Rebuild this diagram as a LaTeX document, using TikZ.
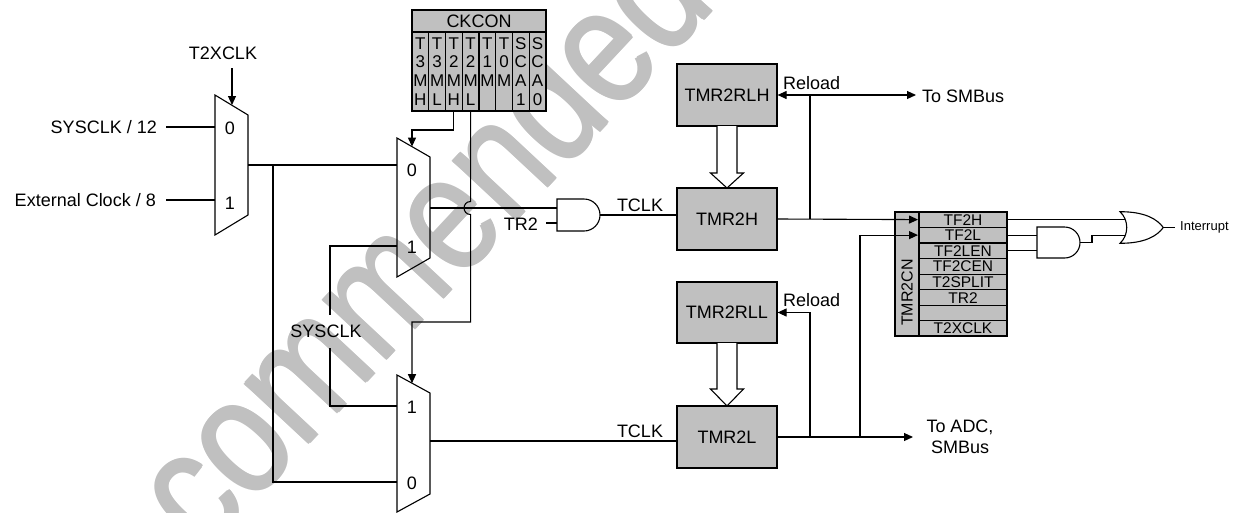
\documentclass[tikz,border=0pt]{standalone}
\usepackage{fontspec}
\setmainfont{Liberation Sans}
\usetikzlibrary{arrows.meta}
\definecolor{boxgray}{RGB}{192,192,192}
\definecolor{wmgray}{RGB}{192,192,192}
\begin{document}
\begin{tikzpicture}[x=1pt,y=-1pt,
  wire/.style={line width=1.1pt,line join=miter},
  arr/.style={wire,-{Triangle[length=9pt,width=8pt]}},
  dblarr/.style={wire,{Triangle[length=9pt,width=8pt]}-{Triangle[length=9pt,width=8pt]}},
  gate/.style={line width=1.1pt,fill=white},
  hollow/.style={line width=1.1pt,fill=white,line join=miter},
  regbox/.style={line width=1.1pt,fill=boxgray,draw},
  tbox/.style={draw,line width=1.2pt,fill=boxgray,minimum width=100pt,inner sep=0pt,font=\fontsize{18}{21}\selectfont},
  lbl/.style={inner sep=0pt,font=\fontsize{18}{21}\selectfont},
  cklbl/.style={inner sep=0pt,font=\fontsize{17}{20}\selectfont},
  rlbl/.style={inner sep=0pt,font=\fontsize{15.5}{17}\selectfont},
  wm/.style={inner sep=0pt,text=wmgray,rotate=47,anchor=base west,font=\fontsize{165}{165}\selectfont}]
\useasboundingbox (0,0) rectangle (1240,512);

% ---------- watermark (behind) ----------
\node[wm] (wmark) at (204,556) {\scalebox{0.83}[1]{commended}};
\node[wm] (wmark2) at (205.3,556) {\scalebox{0.83}[1]{commended}};
\node[wm] (wmark3) at (202.7,556) {\scalebox{0.83}[1]{commended}};
\node[wm] (wmark4) at (204,557.3) {\scalebox{0.83}[1]{commended}};
\node[wm] (wmark5) at (204,554.7) {\scalebox{0.83}[1]{commended}};

% ---------- multiplexers ----------
\draw[wire,fill=white] (215,95) -- (248,115) -- (248,215) -- (215,235) -- cycle;
\draw[wire] (397,138) -- (430,157) -- (430,258) -- (397,277) -- cycle;
\draw[wire] (397,375) -- (430,393) -- (430,494) -- (397,512) -- cycle;
\node[lbl] (m1l0) at (230,128) {0};
\node[lbl] (m1l1) at (230,203) {1};
\node[lbl] (m2l0) at (412,170) {0};
\node[lbl] (m2l1) at (412,247) {1};
\node[lbl] (m3l1) at (412,407) {1};
\node[lbl] (m3l0) at (412,483) {0};

\coordinate (m1i0) at (215,127);
\coordinate (m1i1) at (215,200);
\coordinate (m1o) at (248,165);
\coordinate (m1s) at (232,105);
\coordinate (m2i0) at (397,165);
\coordinate (m2i1) at (397,246);
\coordinate (m2o) at (430,208);
\coordinate (m2s) at (412,146.6);
\coordinate (m3i1) at (397,406);
\coordinate (m3i0) at (397,482);
\coordinate (m3o) at (430,441);
\coordinate (m3s) at (412,383.2);

% ---------- inputs of mux 1 ----------
\node[lbl] (t2x) at (223,53) {T2XCLK};
\node[lbl,anchor=east] (s12) at (157,127) {SYSCLK / 12};
\node[lbl,anchor=east] (ext8) at (156,200) {External Clock / 8};
\coordinate (t2xa) at (232,68);
\draw[arr] (t2xa) -- (m1s);
\coordinate (s12e) at (166,127);
\coordinate (ext8e) at (166,200);
\draw[wire] (s12e) -- (m1i0);
\draw[wire] (ext8e) -- (m1i1);

% ---------- wiring between muxes ----------
\coordinate (j1) at (273,165);
\coordinate (j1b) at (273,482);
\draw[wire] (m1o) -- (m2i0);
\draw[wire] (j1) -- (j1b) -- (m3i0);
\node[lbl] (sysclk) at (326,331) {SYSCLK};
\coordinate (sa) at (330,246);
\coordinate (sb) at (330,315);
\coordinate (sc) at (330,348);
\coordinate (sd) at (330,406);
\draw[wire] (m2i1) -- (sa) -- (sb);
\draw[wire] (sc) -- (sd) -- (m3i1);

% ---------- CKCON register ----------
\filldraw[regbox] (412,10) rectangle (546,111);
\draw[wire] (412,32) -- (546,32);
\foreach \k in {1,...,7} { \draw[wire] ({412+\k*16.75},32) -- ({412+\k*16.75},111); }
\node[lbl] (ckcon) at (479,21) {CKCON};
\foreach \k/\l in {0/{T,3,M,H},1/{T,3,M,L},2/{T,2,M,H},3/{T,2,M,L},4/{T,1,M},5/{T,0,M},6/{S,C,A,1},7/{S,C,A,0}} {
  \foreach \ch [count=\r] in \l {
    \node[cklbl] (ck\k\r) at ({412+(\k+0.5)*16.75},{24.6+18.7*\r}) {\ch};
  }
}
\coordinate (ckmh) at (453.9,111);
\coordinate (ckml) at (470.6,111);
\draw[arr] (ckmh) -- (453.9,130) -- (412,130) -- (m2s);
\draw[arr] (ckml) -- (470.6,201.5) .. controls (461.9,201.5) and (461.9,214.5) .. (470.6,214.5) -- (470.6,322) -- (412,322) -- (m3s);

% ---------- AND gate with TR2 ----------
\draw[gate] (557,199) -- (584,199) .. controls (592.8,199) and (600,206.2) .. (600,215) .. controls (600,223.8) and (592.8,231) .. (584,231) -- (557,231) -- cycle;
\coordinate (a1i0) at (557,208);
\coordinate (a1i1) at (557,223);
\coordinate (a1o) at (600,215);
\draw[wire] (m2o) -- (a1i0);
\node[lbl,anchor=east] (tr2) at (538,224) {TR2};
\coordinate (tr2e) at (546,223);
\draw[wire] (tr2e) -- (a1i1);

% ---------- timer registers ----------
\node[tbox,minimum height=62pt] (rlh) at (727,95) {TMR2RLH};
\node[tbox,minimum height=62pt] (tmrh) at (727,219) {TMR2H};
\node[tbox,minimum height=61pt] (rll) at (727,312.5) {TMR2RLL};
\node[tbox,minimum height=62pt] (tmrl) at (727,437) {TMR2L};

\draw[hollow] (717,126) -- (717,173) -- (710.5,173) -- (727,188) -- (743.5,173) -- (737,173) -- (737,126);
\draw[hollow] (717,343) -- (717,389) -- (710.5,389) -- (727,406) -- (743.5,389) -- (737,389) -- (737,343);

\draw[wire] (a1o) -- (tmrh.west |- a1o);
\node[lbl] (tclk1) at (640,205) {TCLK};
\coordinate (tl_in) at (677,441);
\draw[wire] (m3o) -- (tl_in);
\node[lbl] (tclk2) at (640,431) {TCLK};

% reload high
\coordinate (smb) at (916,95);
\draw[dblarr] (rlh.east) -- (smb);
\node[lbl,anchor=west] (rel1) at (783,83.5) {Reload};
\node[lbl,anchor=west] (tosmb) at (922,96) {To SMBus};
\coordinate (rh1) at (810,95);
\coordinate (rh2) at (810,219);
\draw[wire] (rh1) -- (rh2);

% reload low
\coordinate (adc) at (913,437);
\draw[arr] (tmrl.east) -- (adc);
\coordinate (rl1) at (810,437);
\draw[arr] (rl1) -- (810,312.5) -- (rll.east);
\node[lbl,anchor=west] (rel2) at (783,300) {Reload};
\node[lbl,align=center] (toadc) at (960,436.5) {To ADC,\\[0pt]SMBus};

% ---------- TMR2CN register ----------
\filldraw[regbox] (895,212) rectangle (1007,336);
\draw[wire] (919,212) -- (919,336);
\foreach \yy in {227.3,243,258.6,274.2,289.8,305.4,320.8} { \draw[wire] (919,\yy) -- (1007,\yy); }
\foreach \yy/\t [count=\n] in {219.6/TF2H,235.1/TF2L,250.8/TF2LEN,266.4/TF2CEN,282/T2SPLIT,297.6/TR2,313.1/{},328.4/T2XCLK} {
  \node[rlbl] (cn\n) at (963,\yy) {\t};
}
\node[inner sep=0pt,rotate=90,font=\fontsize{16}{18}\selectfont] (tmr2cn) at (907,292.5) {TMR2CN};

\coordinate (tf2h) at (918,219.6);
\coordinate (tf2l) at (918,235.1);
\draw[arr] (tmrh.east) -- (tf2h);
\coordinate (rl2) at (860,437);
\draw[arr] (rl2) -- (860,235.1) -- (tf2l);

% ---------- interrupt logic ----------
\draw[gate] (1037,227) -- (1064.5,227) .. controls (1073.1,227) and (1080,233.9) .. (1080,242.5) .. controls (1080,251.1) and (1073.1,258) .. (1064.5,258) -- (1037,258) -- cycle;
\draw[gate] (1120,211.7) .. controls (1145,211.7) and (1157,219) .. (1163.3,227.5) .. controls (1157,236) and (1145,243.3) .. (1120,243.3) .. controls (1129,235) and (1129,220) .. (1120,211.7) -- cycle;
\coordinate (a2o) at (1080,242.2);
\coordinate (orh) at (1125,219.6);
\coordinate (orl) at (1125.4,235.1);
\coordinate (oro) at (1163.3,227.5);
\draw[wire] (1007,235.1) -- (1037,235.1);
\draw[wire] (1007,250.8) -- (1037,250.8);
\draw[wire] (1007,219.6) -- (orh);
\draw[wire] (a2o) -- (1092,242.2) -- (1092,235.1) -- (orl);
\coordinate (intr) at (1175,227.5);
\draw[wire] (oro) -- (intr);
\node[inner sep=0pt,anchor=west,font=\fontsize{13}{15}\selectfont] (interrupt) at (1180,227) {Interrupt};
\end{tikzpicture}
\end{document}
